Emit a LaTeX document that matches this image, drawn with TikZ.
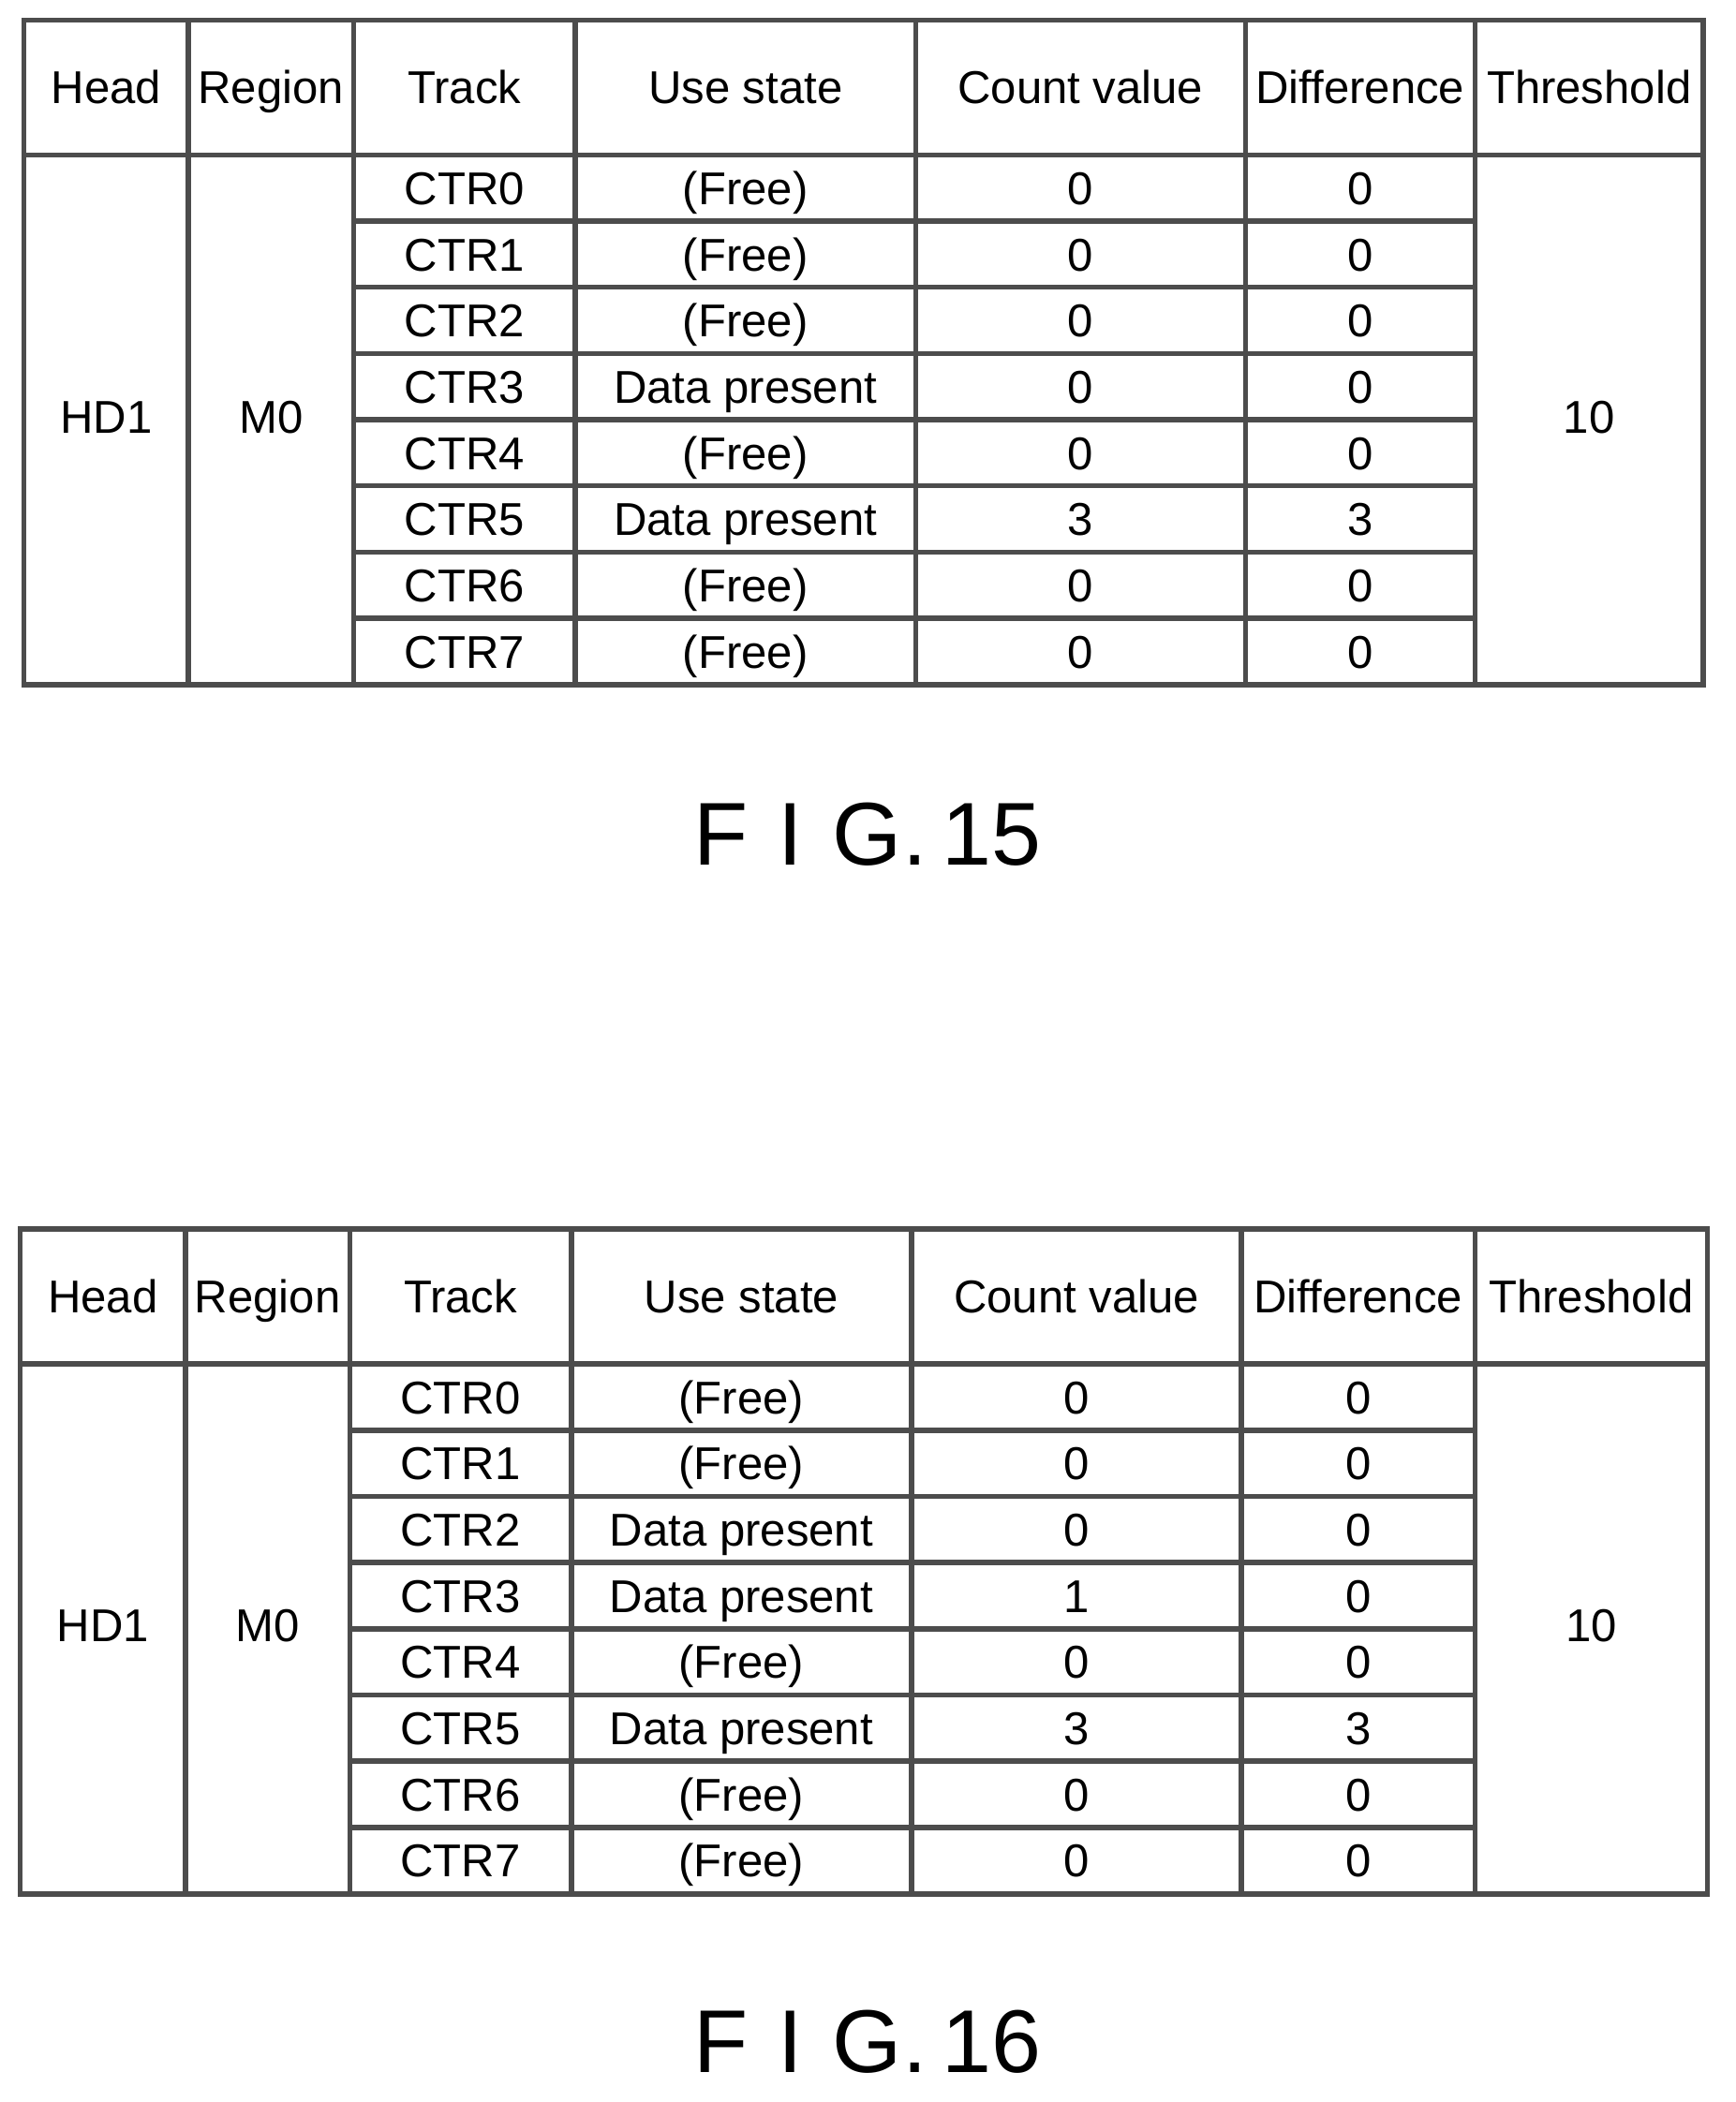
\documentclass[tikz,border=0pt]{standalone}
\usepackage{fontspec}
\setmainfont{Liberation Sans}
\begin{document}
\begin{tikzpicture}[x=0.01cm,y=-0.01cm,
  grid/.style={draw=black!70,line width=1.1pt},
  cell/.style={font=\fontsize{9.8}{12}\selectfont,inner sep=0pt,text height=7pt,text depth=0pt},
  fig/.style={font=\fontsize{19}{22}\selectfont,inner sep=0pt}]
\useasboundingbox (0,0) rectangle (1300,1575);
\newcommand{\mytable}[6]{%
 \foreach \a/\b/\c/\d/\e/\f/\g/\h [count=\i] in {#2}{
   \draw[grid] (\a,#1) rectangle (\h,#1+498);
   \foreach \x in {\b,\c,\d,\e,\f,\g} \draw[grid] (\x,#1) -- (\x,#1+498);
   \draw[grid] (\a,#1+101) -- (\h,#1+101);
   \foreach \k in {1,...,7} \draw[grid] (\c,#1+101+\k*49.6) -- (\g,#1+101+\k*49.6);
   \node[cell] (#6h1) at ({(\a+\b)/2},#1+50) {Head};
   \node[cell] (#6h2) at ({(\b+\c)/2},#1+50) {Region};
   \node[cell] (#6h3) at ({(\c+\d)/2},#1+50) {Track};
   \node[cell] (#6h4) at ({(\d+\e)/2},#1+50) {Use state};
   \node[cell] (#6h5) at ({(\e+\f)/2},#1+50) {Count value};
   \node[cell] (#6h6) at ({(\f+\g)/2},#1+50) {Difference};
   \node[cell] (#6h7) at ({(\g+\h)/2},#1+50) {Threshold};
   \node[cell] (#6hd) at ({(\a+\b)/2},#1+297) {HD1};
   \node[cell] (#6rg) at ({(\b+\c)/2},#1+297) {M0};
   \node[cell] (#6th) at ({(\g+\h)/2},#1+297) {10};
   \foreach \k in {0,...,7} \node[cell] (#6t\k) at ({(\c+\d)/2},#1+126+\k*49.6) {CTR\k};
   \foreach \s [count=\k from 0] in {#3} \node[cell] (#6u\k) at ({(\d+\e)/2},#1+126+\k*49.6) {\s};
   \foreach \s [count=\k from 0] in {#4} \node[cell] (#6c\k) at ({(\e+\f)/2},#1+126+\k*49.6) {\s};
   \foreach \s [count=\k from 0] in {#5} \node[cell] (#6d\k) at ({(\f+\g)/2},#1+126+\k*49.6) {\s};
 }}
\mytable{15}{18/141/265/431/686/933/1105/1276}{(Free),(Free),(Free),Data present,(Free),Data present,(Free),(Free)}{0,0,0,0,0,3,0,0}{0,0,0,0,0,3,0,0}{a}
\mytable{921}{15/139/262/428/683/930/1105/1279}{(Free),(Free),Data present,Data present,(Free),Data present,(Free),(Free)}{0,0,0,1,0,3,0,0}{0,0,0,0,0,3,0,0}{b}
\node[fig] (f15) at (650,625) {F\,\,I\,\,G.\,15};
\node[fig] (f16) at (650,1530) {F\,\,I\,\,G.\,16};
\end{tikzpicture}
\end{document}
